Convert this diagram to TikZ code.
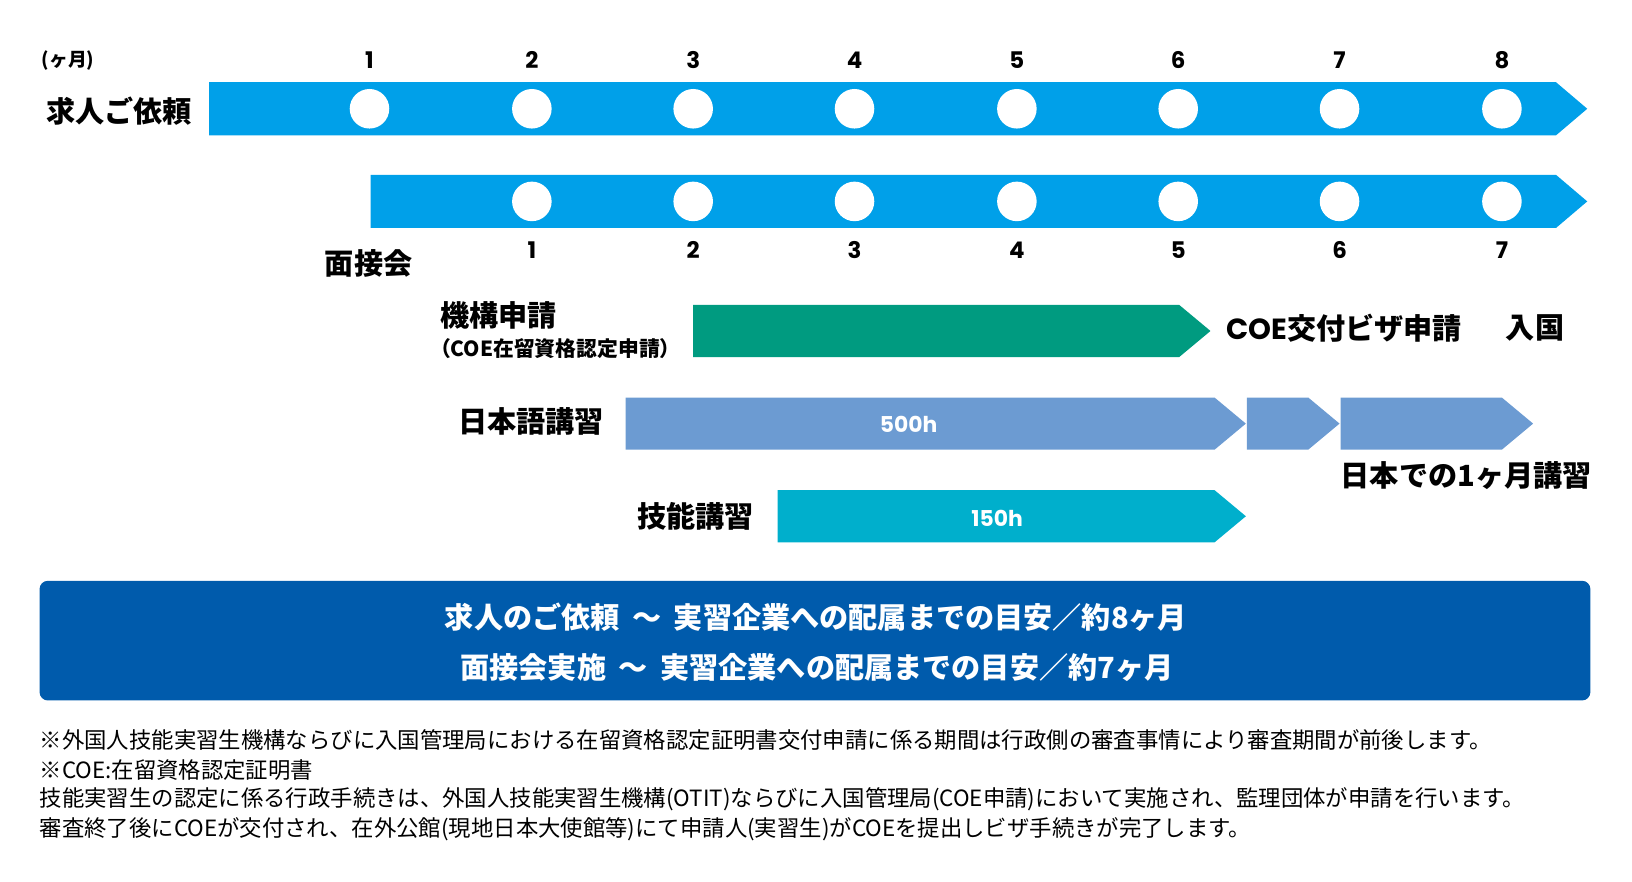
\documentclass[tikz,border=0pt]{standalone}
\usepackage{fontspec}
\setmainfont{Noto Sans CJK JP}
\newfontfamily\numfont{Poppins}
\usepackage{tikz}
\usetikzlibrary{positioning}

\begin{document}
\begin{tikzpicture}
    [%%%%%%%%%%%%%%%%%%%%%%%%%%%%%%
        x=1pt, y=-1pt,
        stage/.style={font=\fontsize{28}{28}\selectfont\bfseries, inner sep=0pt, anchor=west},
        month/.style={font=\fontsize{22}{22}\selectfont\numfont\bfseries, inner sep=0pt},
        dot/.style={circle, fill=white, minimum size=38pt, inner sep=0pt},
        hours/.style={font=\fontsize{21}{21}\selectfont\numfont\bfseries, text=white, inner sep=0pt},
        summary/.style={font=\fontsize{28}{28}\selectfont\bfseries, text=white, inner sep=0pt},
        note/.style={font=\fontsize{21.5}{21.5}\selectfont, inner sep=0pt, anchor=west}
    ]%%%%%%%%%%%%%%%%%%%%%%%%%%%%%%
\definecolor{reqblue}{HTML}{00A0E9}
\definecolor{otitgreen}{HTML}{009B80}
\definecolor{langblue}{HTML}{6C9BD2}
\definecolor{skillcyan}{HTML}{00AFCC}
\definecolor{boxblue}{HTML}{005BAC}

\useasboundingbox (0,0) rectangle (1568,846.5);

% request line
\fill[reqblue] (201,79) -- (1495,79) -- (1525,104.5) -- (1495,130) -- (201,130) -- cycle;
\node[font=\fontsize{18}{18}\selectfont\bfseries, inner sep=0pt, anchor=west] (unit) at (40,58) {(ヶ月)};
\node[stage] (request) at (44,107) {求人ご依頼};
\foreach \m [count=\i] in {355,511,666,821,977,1132,1287,1443}{
    \node[dot] (req\i) at (\m,104.5) {};
    \node[month] (reqm\i) at (\m,58) {\i};
}

% interview line
\fill[reqblue] (356,168) -- (1495,168) -- (1525,193.5) -- (1495,219) -- (356,219) -- cycle;
\node[stage] (interview) at (312,253) {面接会};
\foreach \m [count=\i] in {511,666,821,977,1132,1287,1443}{
    \node[dot] (int\i) at (\m,193.5) {};
    \node[month] (intm\i) at (\m,240) {\i};
}

% application
\fill[otitgreen] (666,293) -- (1133,293) -- (1163,318) -- (1133,343) -- (666,343) -- cycle;
\node[stage] (otit) at (423,303) {機構申請};
\node[font=\fontsize{20}{20}\selectfont\bfseries, inner sep=0pt, anchor=west] (otitsub) at (413,335) {（COE在留資格認定申請）};
\node[stage] (coe) at (1178,315) {{\numfont COE}交付ビザ申請};
\node[stage, anchor=east] (entry) at (1503,315) {入国};

% japanese lessons
\fill[langblue] (601,382) -- (1167,382) -- (1197,407) -- (1167,432) -- (601,432) -- cycle;
\fill[langblue] (1198,382) -- (1257,382) -- (1287,407) -- (1257,432) -- (1198,432) -- cycle;
\fill[langblue] (1288,382) -- (1443,382) -- (1473,407) -- (1443,432) -- (1288,432) -- cycle;
\node[stage] (lang) at (440,405) {日本語講習};
\node[hours] (langh) at (873,408) {500h};
\node[stage] (inlang) at (1288,457) {日本での1ヶ月講習};

% skill lessons
\fill[skillcyan] (747,471) -- (1167,471) -- (1197,496) -- (1167,521) -- (747,521) -- cycle;
\node[stage] (skill) at (612,496) {技能講習};
\node[hours] (skillh) at (958,498) {150h};

% summary
\fill[boxblue, rounded corners=8pt] (38,558) rectangle (1528,673);
\node[summary] (sum1) at (784,593) {求人のご依頼\hspace{12pt}〜\hspace{12pt}実習企業への配属までの目安／約8ヶ月};
\node[summary] (sum2) at (785,641) {面接会実施\hspace{12pt}〜\hspace{12pt}実習企業への配属までの目安／約7ヶ月};

% notes
\node[note] (note1) at (38,711) {※外国人技能実習生機構ならびに入国管理局における在留資格認定証明書交付申請に係る期間は行政側の審査事情により審査期間が前後します。};
\node[note] (note2) at (38,740) {※COE:在留資格認定証明書};
\node[note] (note3) at (38,768) {技能実習生の認定に係る行政手続きは、外国人技能実習生機構(OTIT)ならびに入国管理局(COE申請)において実施され、監理団体が申請を行います。};
\node[note] (note4) at (38,797) {審査終了後にCOEが交付され、在外公館(現地日本大使館等)にて申請人(実習生)がCOEを提出しビザ手続きが完了します。};

\end{tikzpicture}
\end{document}
